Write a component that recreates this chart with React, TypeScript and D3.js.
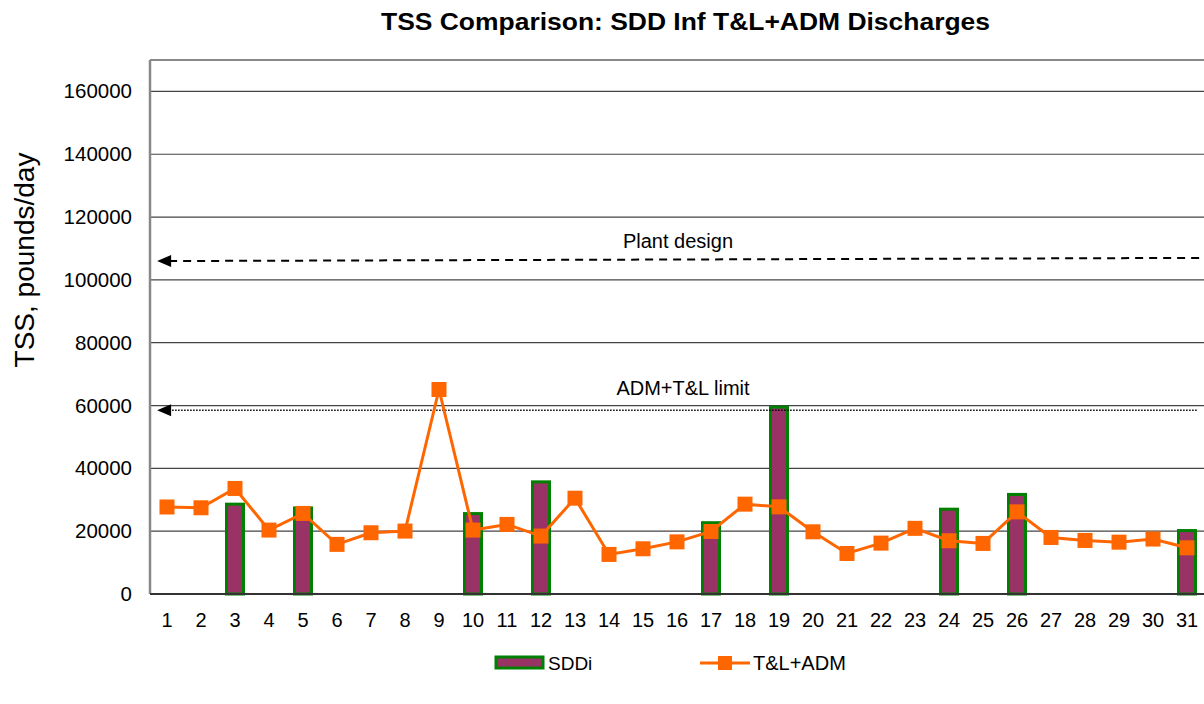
import React from "react";
import * as d3 from "d3";

const days = d3.range(1, 32);
// SDDi bars (null = no bar)
const sddi: (number | null)[] = [
  null, null, 28600, null, 27400, null, null, null, null, 25600,
  null, 35700, null, null, null, null, 22700, null, 59500, null,
  null, null, null, 27000, null, 31700, null, null, null, null, 20200,
];
const tlAdm: number[] = [
  27700, 27450, 33600, 20350, 25650, 15800, 19500, 20030, 65100, 20350,
  22150, 18440, 30500, 12600, 14400, 16600, 19900, 28600, 27750, 19800,
  12900, 16200, 20900, 16950, 16100, 26150, 18000, 17050, 16500, 17500, 14700,
];
const yTicks = [0, 20000, 40000, 60000, 80000, 100000, 120000, 140000, 160000];
const plantDesign = { x0: 0.71, x1: 31.5, v0: 106000, v1: 107000, label: "Plant design" };
const admLimit = { x0: 0.71, x1: 31.32, v0: 58500, v1: 58500, label: "ADM+T&L limit" };

const W = 1204;
const H = 704;
const left = 150;
const right = 1204;
const top = 60;
const bottom = 594;
const font = "'Liberation Sans', Arial, sans-serif";

export default function App() {
  const x = d3.scaleBand<number>().domain(days).range([left, right]).padding(0);
  const xl = d3.scaleLinear().domain([0.5, 31.5]).range([left, right]);
  const y = d3.scaleLinear().domain([0, 170000]).range([bottom, top]);
  const cx = (d: number) => (x(d) as number) + x.bandwidth() / 2;
  const line = d3
    .line<number>()
    .x((_, i) => cx(days[i]))
    .y((v) => y(v));
  const barW = 17;
  const ms = 15;

  const arrow = (xa: number, ya: number) =>
    `M${xa},${ya} L${xa + 14},${ya - 6} L${xa + 14},${ya + 6} Z`;

  return (
    <svg width={W} height={H} style={{ display: "block", position: "absolute", left: 0, top: 0 }}>
      <rect width={W} height={H} fill="#fff" />
      <text
        x={381}
        y={30}
        textLength={609}
        lengthAdjust="spacingAndGlyphs"
        fontFamily={font}
        fontWeight="bold"
        fontSize={23.5}
        fill="#000"
      >
        TSS Comparison: SDD Inf T&amp;L+ADM Discharges
      </text>
      {/* gridlines */}
      {yTicks.filter((t) => t > 0).map((t) => (
        <line key={t} x1={left} x2={right} y1={y(t)} y2={y(t)} stroke="#444" strokeWidth={1.2} />
      ))}
      {/* plot border top */}
      <line x1={left} x2={right} y1={top} y2={top} stroke="#888" strokeWidth={2} />
      <line x1={left} x2={left} y1={top} y2={bottom} stroke="#888" strokeWidth={2.5} />
      {/* y tick labels */}
      {yTicks.map((t) => (
        <text
          key={t}
          x={132}
          y={y(t) + 7}
          textAnchor="end"
          fontFamily={font}
          fontSize={20.5}
          fill="#000"
        >
          {t}
        </text>
      ))}
      <text
        transform={`translate(34,260) rotate(-90)`}
        textAnchor="middle"
        fontFamily={font}
        fontSize={28}
        fill="#000"
      >
        TSS, pounds/day
      </text>
      {/* bars */}
      {sddi.map((v, i) =>
        v == null ? null : (
          <rect
            key={i}
            x={cx(days[i]) - barW / 2}
            y={y(v)}
            width={barW}
            height={y(0) - y(v)}
            fill="#993366"
            stroke="#008000"
            strokeWidth={3}
          />
        )
      )}
      {/* bottom axis */}
      <line x1={left} x2={right} y1={bottom} y2={bottom} stroke="#333" strokeWidth={2} />
      {/* x tick labels */}
      {days.map((d) => (
        <text key={d} x={cx(d)} y={627} textAnchor="middle" fontFamily={font} fontSize={20} fill="#000">
          {d}
        </text>
      ))}
      {/* reference lines */}
      <line
        x1={xl(plantDesign.x0) + 12}
        x2={xl(plantDesign.x1)}
        y1={y(plantDesign.v0)}
        y2={y(plantDesign.v1)}
        stroke="#000"
        strokeWidth={2}
        strokeDasharray="8,6"
      />
      <path d={arrow(xl(plantDesign.x0), y(plantDesign.v0))} fill="#000" />
      <text x={678} y={248} textAnchor="middle" fontFamily={font} fontSize={20} fill="#000">
        {plantDesign.label}
      </text>
      <line
        x1={xl(admLimit.x0) + 12}
        x2={xl(admLimit.x1)}
        y1={y(admLimit.v0)}
        y2={y(admLimit.v1)}
        stroke="#000"
        strokeWidth={1.5}
        strokeDasharray="1.5,1.5"
      />
      <path d={arrow(xl(admLimit.x0), y(admLimit.v0))} fill="#000" />
      <text x={683} y={395} textAnchor="middle" fontFamily={font} fontSize={20} fill="#000">
        {admLimit.label}
      </text>
      {/* line series */}
      <path d={line(tlAdm) || ""} fill="none" stroke="#FF6600" strokeWidth={3} />
      {tlAdm.map((v, i) => (
        <rect key={i} x={cx(days[i]) - ms / 2} y={y(v) - ms / 2} width={ms} height={ms} fill="#FF6600" />
      ))}
      {/* legend */}
      <rect x={496} y={657} width={47} height={11} fill="#993366" stroke="#008000" strokeWidth={3} />
      <text x={548} y={670} fontFamily={font} fontSize={19} fill="#000">SDDi</text>
      <line x1={700} x2={750} y1={663} y2={663} stroke="#FF6600" strokeWidth={3} />
      <rect x={725 - 7} y={656} width={14} height={14} fill="#FF6600" />
      <text x={753} y={670} fontFamily={font} fontSize={20} fill="#000">T&amp;L+ADM</text>
    </svg>
  );
}
